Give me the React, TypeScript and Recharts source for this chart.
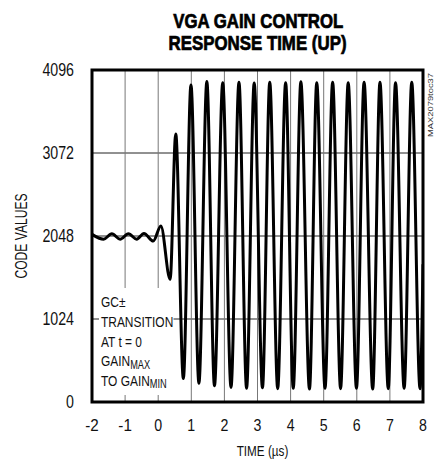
import React from "react";
import { LineChart, Line, XAxis, YAxis, CartesianGrid, ReferenceArea } from "recharts";

const times = [
  -2, -1.65, -1.4, -1.15, -0.9, -0.65, -0.43, -0.15, 0.08, 0.36, 0.53, 0.76, 0.99, 1.23, 1.47, 1.7,
  1.95, 2.2, 2.44, 2.67, 2.9, 3.15, 3.37, 3.61, 3.85, 4.08, 4.31, 4.57, 4.79, 5.04, 5.27, 5.51,
  5.74, 5.99, 6.22, 6.48, 6.7, 6.95, 7.17, 7.43, 7.66, 7.91, 8,
];
const codes = [
  2068, 2008, 2075, 2008, 2075, 2008, 2080, 1985, 2172, 1514, 3307, 290, 3912, 230, 3953, 200,
  3940, 180, 3945, 170, 3935, 175, 3945, 165, 3940, 170, 3950, 160, 3940, 170, 3945, 165,
  3940, 170, 3945, 160, 3945, 165, 3940, 170, 3945, 165, 1700,
];
const xTicks = [-2, -1, 0, 1, 2, 3, 4, 5, 6, 7, 8];
const yTicks = [0, 1024, 2048, 3072, 4096];

const data = times.map((t, i) => ({ t, code: codes[i] }));

const FONT = "'Liberation Sans', Arial, Helvetica, sans-serif";

const labelLength = (s: string) => {
  let w = 0;
  for (const ch of s) w += ch === "-" ? 5.6 : 7.9;
  return w;
};

const YTick = (props: any) => {
  const { x, y, payload } = props;
  const s = String(payload.value);
  return (
    <text x={x} y={y} dy="0.355em" textAnchor="end" fontFamily={FONT} fontSize={17.5} fill="#111"
      textLength={labelLength(s)} lengthAdjust="spacingAndGlyphs">
      {s}
    </text>
  );
};

const XTick = (props: any) => {
  const { x, y, payload } = props;
  const s = String(payload.value);
  return (
    <text x={x} y={y} dy="0.71em" textAnchor="middle" fontFamily={FONT} fontSize={17} fill="#111"
      textLength={labelLength(s)} lengthAdjust="spacingAndGlyphs">
      {s}
    </text>
  );
};

export default function App() {
  return (
    <div style={{ position: "absolute", left: 0, top: 0, width: 435, height: 463, background: "#fff" }}>
      <LineChart width={435} height={463} data={data} margin={{ top: 70, right: 12, bottom: 21, left: 12 }}>
        <CartesianGrid vertical={false} stroke="#222" strokeWidth={1} />
        <CartesianGrid horizontal={false} stroke="#777" strokeWidth={1} />
        <XAxis
          type="number"
          dataKey="t"
          domain={[-2, 8]}
          ticks={xTicks}
          interval={0}
          allowDataOverflow
          axisLine={false}
          tickLine={false}
          tickSize={0}
          tickMargin={17}
          height={40}
          tick={<XTick />}
        />
        <YAxis
          type="number"
          domain={[0, 4096]}
          ticks={yTicks}
          interval={0}
          allowDataOverflow
          axisLine={false}
          tickLine={false}
          tickSize={0}
          tickMargin={18}
          width={80}
          tick={<YTick />}
        />
        <Line
          type="monotone"
          dataKey="code"
          stroke="#000"
          strokeWidth={3}
          dot={false}
          isAnimationActive={false}
        />
        <ReferenceArea
          x1={-2}
          x2={8}
          y1={0}
          y2={4096}
          fill="none"
          fillOpacity={0}
          stroke="#000"
          strokeWidth={3}
          ifOverflow="visible"
        />
      </LineChart>
      <svg
        width={435}
        height={463}
        style={{ position: "absolute", left: 0, top: 0, pointerEvents: "none" }}
      >
        <text x={258.3} y={27.5} textAnchor="middle" fontFamily={FONT} fontWeight="bold" fontSize={19.5} textLength={170} lengthAdjust="spacingAndGlyphs" fill="#000" stroke="#000" strokeWidth={0.7}>
          VGA GAIN CONTROL
        </text>
        <text x={257.5} y={49.5} textAnchor="middle" fontFamily={FONT} fontWeight="bold" fontSize={19.5} textLength={178} lengthAdjust="spacingAndGlyphs" fill="#000" stroke="#000" strokeWidth={0.7}>
          RESPONSE TIME (UP)
        </text>
        <text x={26.5} y={236} transform="rotate(-90 26.5 236)" textAnchor="middle" fontFamily={FONT} fontSize={16} textLength={85} lengthAdjust="spacingAndGlyphs" fill="#111">
          CODE VALUES
        </text>
        <text x={262.5} y={455.5} textAnchor="middle" fontFamily={FONT} fontSize={15.5} textLength={51.6} lengthAdjust="spacingAndGlyphs" fill="#111">
          TIME (µs)
        </text>
        <text x={433} y={105} transform="rotate(-90 433 105)" textAnchor="middle" fontFamily={FONT} fontSize={7.5} textLength={64} lengthAdjust="spacingAndGlyphs" fill="#333">
          MAX2079toc37
        </text>
        <rect x={99} y={288} width={74.5} height={107} fill="#fff" />
        <g transform="translate(101 0) scale(0.77 1)" fontFamily={FONT} fontSize={15.5} fill="#111">
          <text x={0} y={307}>GC±</text>
          <text x={0} y={327}>TRANSITION</text>
          <text x={0} y={347}>AT t = 0</text>
          <text x={0} y={366.5}>
            GAIN<tspan fontSize={12} dy={2.5}>MAX</tspan>
          </text>
          <text x={0} y={386}>
            TO GAIN<tspan fontSize={12} dy={2.5}>MIN</tspan>
          </text>
        </g>
      </svg>
    </div>
  );
}
